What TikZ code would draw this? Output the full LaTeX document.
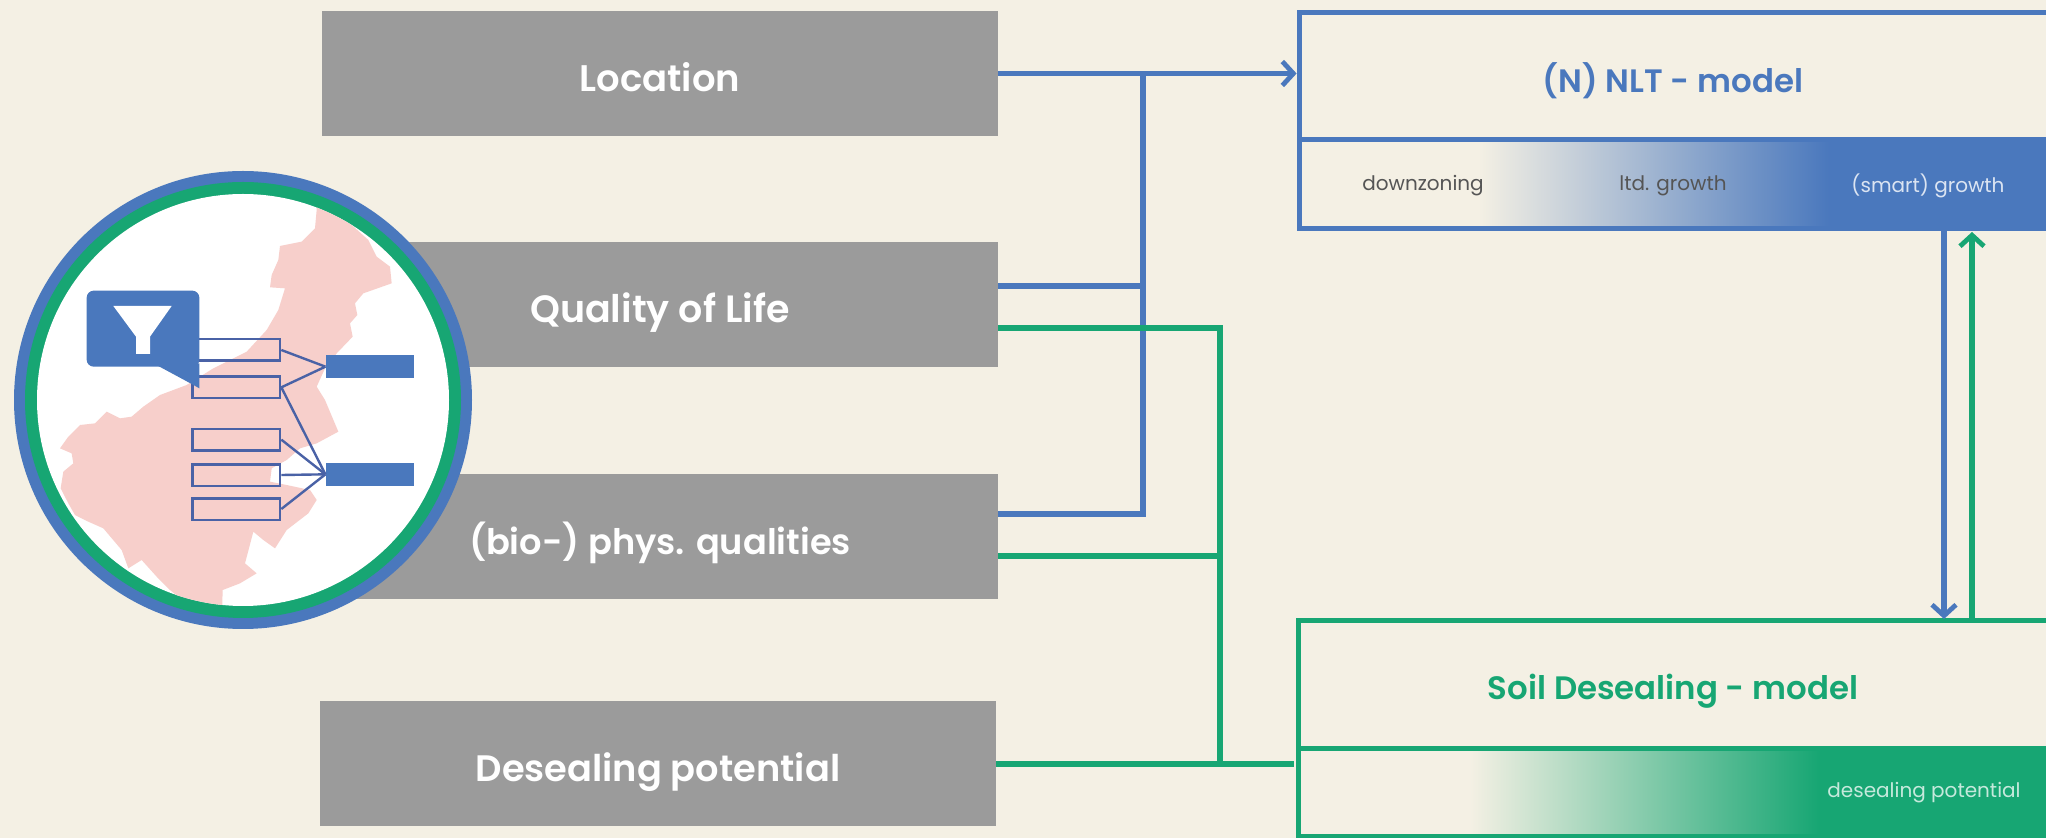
\documentclass[tikz,border=0pt]{standalone}
\usepackage{fontspec}
\setmainfont{Poppins}[BoldFont={Poppins SemiBold}]
\usetikzlibrary{arrows.meta}
\definecolor{bgc}{HTML}{F4F0E4}
\definecolor{bluec}{HTML}{4A78BD}
\definecolor{greenc}{HTML}{17A673}
\definecolor{grayc}{HTML}{9B9B9B}
\definecolor{pinkc}{HTML}{F7CFCB}
\definecolor{darkline}{HTML}{4A62A6}
\definecolor{txtc}{HTML}{555555}
\newcommand{\boxlabel}[1]{\raisebox{-8.8pt}[0pt][0pt]{#1}}
\tikzset{
  graybox/.style={fill=grayc,text=white,font=\fontsize{#1}{20}\selectfont\bfseries,inner sep=0pt,minimum width=338pt,minimum height=62.5pt},
  bconn/.style={draw=bluec,line width=2.8pt},
  gconn/.style={draw=greenc,line width=2.8pt},
  tip/.style={-{Straight Barb[length=5.5pt,width=12pt,line width=2.4pt]}},
  modeltitle/.style={font=\fontsize{16.2}{19}\selectfont\bfseries,inner sep=0pt},
  scale label/.style={font=\fontsize{10}{12}\selectfont,inner sep=0pt},
  attr/.style={draw=darkline,line width=1.3pt,minimum width=43.7pt,minimum height=10.8pt,inner sep=0pt},
  target/.style={fill=bluec,minimum width=44.2pt,minimum height=11.2pt,inner sep=0pt},
  link/.style={draw=darkline,line width=1.2pt},
  ring/.style={circle,inner sep=0pt}
}
\begin{document}
\begin{tikzpicture}[x=0.5pt,y=-0.5pt]
\useasboundingbox (0,0) rectangle (2046,838);
\fill[bgc] (0,0) rectangle (2046,838);

% grey input boxes
\node[graybox=18.5] (loc) at (660,73.5) {\boxlabel{Location}};
\node[graybox=19] (qol) at (660,304.5) {\boxlabel{Quality of Life}};
\node[graybox=17.6] (bio) at (660,537) {\boxlabel{(bio-) phys. qualities}};
\node[graybox=18.4] (des) at (658,764) {\boxlabel{Desealing potential}};

% NLT model
\node[inner sep=0pt,minimum width=373pt,minimum height=63pt] (nlt) at (1673,76) {};
\node[inner sep=0pt,minimum width=373pt,minimum height=44.5pt] (nltbar) at (1673,183.5) {};
\fill[bluec] (1829,139) rectangle (2046,228);
\shade[left color=bgc,right color=bluec] (1478,139) rectangle (1829,228);
\draw[bconn] (nlt.south east) -- (nlt.south west);
\draw[bconn] (nlt.north east) -- (nlt.north west) -- (nltbar.south west) -- (nltbar.south east);
\node[modeltitle,text=bluec] (nlttitle) at (1673,81) {(N) NLT - model};
\node[scale label,text=txtc] (l1) at (1423,186) {downzoning};
\node[scale label,text=txtc] (l2) at (1673,186) {ltd. growth};
\node[scale label,text=white!80!bluec] (l3) at (1928,186) {(smart) growth};

% Soil model
\node[inner sep=0pt,minimum width=373.5pt,minimum height=63.5pt] (soil) at (1672.5,684.5) {};
\node[inner sep=0pt,minimum width=373.5pt,minimum height=44pt] (soilbar) at (1672.5,792) {};
\fill[greenc] (1819,748) rectangle (2046,836);
\shade[left color=bgc,right color=greenc] (1470,748) rectangle (1819,836);
\draw[gconn] (soil.south east) -- (soil.south west);
\draw[gconn] (soil.north east) -- (soil.north west) -- (soilbar.south west) -- (soilbar.south east);
\node[modeltitle,text=greenc] (soiltitle) at (1673,691.5) {Soil Desealing - model};
\node[scale label,text=white!75!greenc] (l4) at (1924,793) {desealing potential};

% connectors
\coordinate (jb) at (1143,73.5);
\coordinate (jg) at (1220,764);
\coordinate (nltout) at (1944,228);
\coordinate (soilin) at (1944,619);
\coordinate (soilout) at (1972,621);
\coordinate (nltin) at (1972,232);
\draw[bconn,tip] (loc.east) -- ([xshift=-1.5pt]nlt.west |- loc.east);
\draw[bconn] ([yshift=9.25pt]qol.east) -| (jb);
\draw[bconn] ([yshift=11.5pt]bio.east) -| (jb);
\draw[gconn] ([yshift=-11.75pt]qol.east) -| (jg);
\draw[gconn] ([yshift=-9.5pt]bio.east) -| (jg);
\draw[gconn] (des.east) -- ([xshift=-2.5pt]soilbar.west |- des.east);
\draw[bconn,tip] (nltout) -- (soilin);
\draw[gconn,tip] (soilout) -- (nltin);

% circular inset
\node[ring,fill=bluec,minimum size=229pt] (ringb) at (243,400) {};
\node[ring,fill=greenc,minimum size=218pt] (ringg) at (243,400) {};
\node[ring,fill=white,minimum size=206pt] (disc) at (243,400) {};
\begin{scope}
\clip (243,400) circle (206);
\begin{scope}[x=0.16667pt,y=-0.16667pt,shift={(0pt,-80pt)}]
\fill[pinkc] (950,150) -- (945,205) -- (905,245) -- (840,258) -- (835,300) -- (815,345) -- (810,382) -- (855,385)
 -- (835,450) -- (800,510) -- (740,575) -- (640,625) -- (560,675) -- (480,705) -- (430,740) -- (395,770)
 -- (360,775) -- (320,755) -- (285,790) -- (240,795) -- (205,830) -- (180,865) -- (215,880) -- (220,910)
 -- (190,935) -- (182,985) -- (205,1030) -- (225,1065) -- (265,1085) -- (310,1105) -- (365,1170) -- (385,1225)
 -- (425,1200) -- (470,1250) -- (510,1290) -- (560,1330) -- (600,1400) -- (665,1400) -- (668,1290) -- (720,1270)
 -- (770,1240) -- (735,1210) -- (760,1115) -- (790,1140) -- (825,1165) -- (860,1110) -- (925,1060) -- (950,1020)
 -- (930,990) -- (860,975) -- (810,965) -- (815,925) -- (860,900) -- (900,865) -- (950,850) -- (1015,815)
 -- (975,720) -- (950,680) -- (975,625) -- (1010,580) -- (1058,530) -- (1050,490) -- (1072,465) -- (1065,430)
 -- (1090,400) -- (1175,370) -- (1170,320) -- (1130,290) -- (1105,240) -- (950,100) -- cycle;
\end{scope}
\end{scope}
\begin{scope}[x=0.16667pt,y=-0.16667pt,shift={(0pt,-80pt)}]
\node[attr] (a1) at (709,570) {};
\node[attr] (a2) at (709,682) {};
\node[attr] (a3) at (709,839) {};
\node[attr] (a4) at (709,945) {};
\node[attr] (a5) at (709,1047) {};
\node[target] (t1) at (1110,620) {};
\node[target] (t2) at (1110,943) {};
\draw[link] (a1.east) -- (t1.west);
\draw[link] (a2.east) -- (t1.west);
\draw[link] (a2.east) -- (t2.west);
\draw[link] (a3.east) -- (t2.west);
\draw[link] (a4.east) -- (t2.west);
\draw[link] (a5.east) -- (t2.west);
\fill[bluec,rounded corners=3.5pt] (260,392) -- (598,392) -- (598,620) -- (260,620) -- cycle;
\fill[bluec] (460,610) -- (598,610) -- (598,685) -- (575,672) -- cycle;
\fill[white] (340,438) -- (515,438) -- (450,530) -- (450,582) -- (408,582) -- (408,530) -- cycle;
\end{scope}
\end{tikzpicture}
\end{document}
